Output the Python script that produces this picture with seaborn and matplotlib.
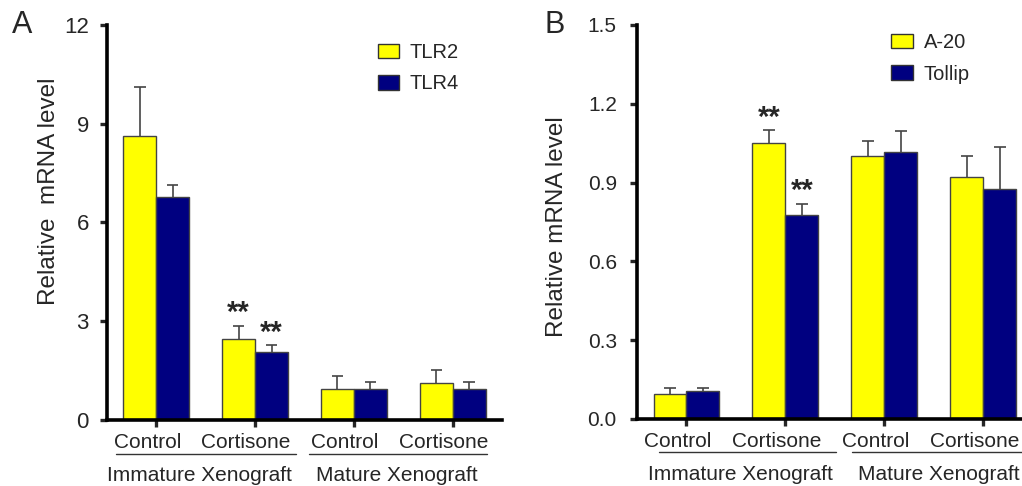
import matplotlib
matplotlib.use("Agg")
import matplotlib.pyplot as plt
import matplotlib.transforms as mtransforms
import seaborn as sns
import pandas as pd

# panel A data
groups = ["Control", "Cortisone", "Control ", "Cortisone "]
tick_labels = ["Control", "Cortisone", "Control", "Cortisone"]
tlr2 = [8.63, 2.45, 0.94, 1.12]
tlr2_err = [1.5, 0.41, 0.41, 0.41]
tlr4 = [6.77, 2.07, 0.94, 0.94]
tlr4_err = [0.38, 0.2, 0.21, 0.21]

# panel B data
a20 = [0.095, 1.05, 1.0, 0.92]
a20_err = [0.022, 0.05, 0.058, 0.08]
tollip = [0.107, 0.775, 1.018, 0.877]
tollip_err = [0.012, 0.045, 0.08, 0.16]

group_names = ["Immature Xenograft", "Mature Xenograft"]

sns.set_style("white")
plt.rcParams["font.family"] = ["Liberation Sans", "DejaVu Sans"]

YELLOW = "#ffff00"
NAVY = "#000080"


def make_df(s1, e1, s2, e2, n1, n2):
    rows = []
    for g, v, e in zip(groups, s1, e1):
        rows.append({"group": g, "gene": n1, "value": v, "err": e})
    for g, v, e in zip(groups, s2, e2):
        rows.append({"group": g, "gene": n2, "value": v, "err": e})
    return pd.DataFrame(rows)


def draw_panel(ax, df, names, ymax, step, fmt, ylabel, letter, stars, xr,
               lines, text_x, leg_anchor, ysize, ypad, ylab_xy):
    sns.barplot(data=df, x="group", y="value", hue="gene", order=groups,
                hue_order=names, palette=[YELLOW, NAVY], width=2 / 3,
                saturation=1, errorbar=None, edgecolor="#444444",
                linewidth=1.0, ax=ax, zorder=2)
    # error bars (upper only)
    for cont, name in zip(ax.containers, names):
        sub = df[df.gene == name].set_index("group").loc[groups]
        for bar, g, v, e in zip(cont.patches, groups, sub["value"], sub["err"]):
            xc = bar.get_x() + bar.get_width() / 2
            hw = bar.get_width() * 0.17
            ax.vlines(xc, v, v + e, color="#444444", lw=1.2, zorder=1)
            ax.hlines(v + e, xc - hw, xc + hw, color="#444444", lw=1.2,
                      zorder=1)
            if (name, g) in stars:
                ax.text(xc, v + e - ymax * 0.004, "**", ha="center",
                        va="bottom", fontsize=21, fontweight="bold")

    ax.set_ylim(0, ymax)
    ticks = [i * step for i in range(6) if i * step <= ymax + 1e-9]
    ax.set_yticks(ticks)
    ax.set_yticklabels([fmt.format(t) for t in ticks])
    ax.set_xlim(*xr)
    ax.set_xticks(range(4))
    ax.set_xticklabels([])
    trans = ax.get_xaxis_transform()
    shift = mtransforms.ScaledTranslation(-9 / 100, 0, ax.figure.dpi_scale_trans)
    for i, lab in enumerate(tick_labels):
        ax.text(i, -0.032, lab, transform=trans + shift, ha="center",
                va="top", fontsize=15)
    ax.set_xlabel("")
    ax.set_ylabel(ylabel, fontsize=17.5)
    ax.yaxis.set_label_coords(*ylab_xy)
    for s in ["top", "right"]:
        ax.spines[s].set_visible(False)
    for s in ["left", "bottom"]:
        ax.spines[s].set_linewidth(2.6)
        ax.spines[s].set_color("black")
    ax.tick_params(axis="y", direction="out", length=5, width=2.4,
                   labelsize=ysize, pad=ypad, left=True)
    ax.tick_params(axis="x", direction="out", length=5, width=2.4, pad=4,
                   bottom=True)

    leg = ax.legend(frameon=False, loc="upper left", fontsize=14.5,
                    handlelength=1.05, handleheight=0.75, handletextpad=0.55,
                    labelspacing=0.62, bbox_to_anchor=leg_anchor,
                    borderaxespad=0)
    for h in leg.legend_handles:
        h.set_edgecolor("#333333")

    for (x0, x1), tx, name in zip(lines, text_x, group_names):
        ax.plot([x0, x1], [-0.085, -0.085], color="#333333", lw=1.0,
                transform=trans, clip_on=False)
        ax.text(tx, -0.14, name, transform=trans, ha="center", va="center",
                fontsize=15)
    ax.text(-0.24, 1.0, letter, transform=ax.transAxes, fontsize=22,
            ha="left", va="center")


fig = plt.figure(figsize=(10.22, 4.86), dpi=100)
axA = fig.add_axes([0.1047, 0.1358, 0.3865, 0.8128])
axB = fig.add_axes([0.6233, 0.1379, 0.3767, 0.8107])

dfA = make_df(tlr2, tlr2_err, tlr4, tlr4_err, "TLR2", "TLR4")
draw_panel(axA, dfA, ["TLR2", "TLR4"], 12, 3, "{:.0f}",
           "Relative  mRNA level", "A",
           [("TLR2", "Cortisone"), ("TLR4", "Cortisone")], (-0.5, 3.5),
           [(-0.41, 1.41), (1.55, 3.35)], [0.44, 2.43], (0.665, 0.975),
           16, 8, (-0.12, 0.58))

dfB = make_df(a20, a20_err, tollip, tollip_err, "A-20", "Tollip")
draw_panel(axB, dfB, ["A-20", "Tollip"], 1.5, 0.3, "{:.1f}",
           "Relative mRNA level", "B",
           [("A-20", "Cortisone"), ("Tollip", "Cortisone")], (-0.5, 3.39),
           [(-0.28, 1.51), (1.67, 3.45)], [0.55, 2.55], (0.64, 1.0),
           15, 9.5, (-0.18, 0.487))

fig.savefig("out.png", dpi=100)
